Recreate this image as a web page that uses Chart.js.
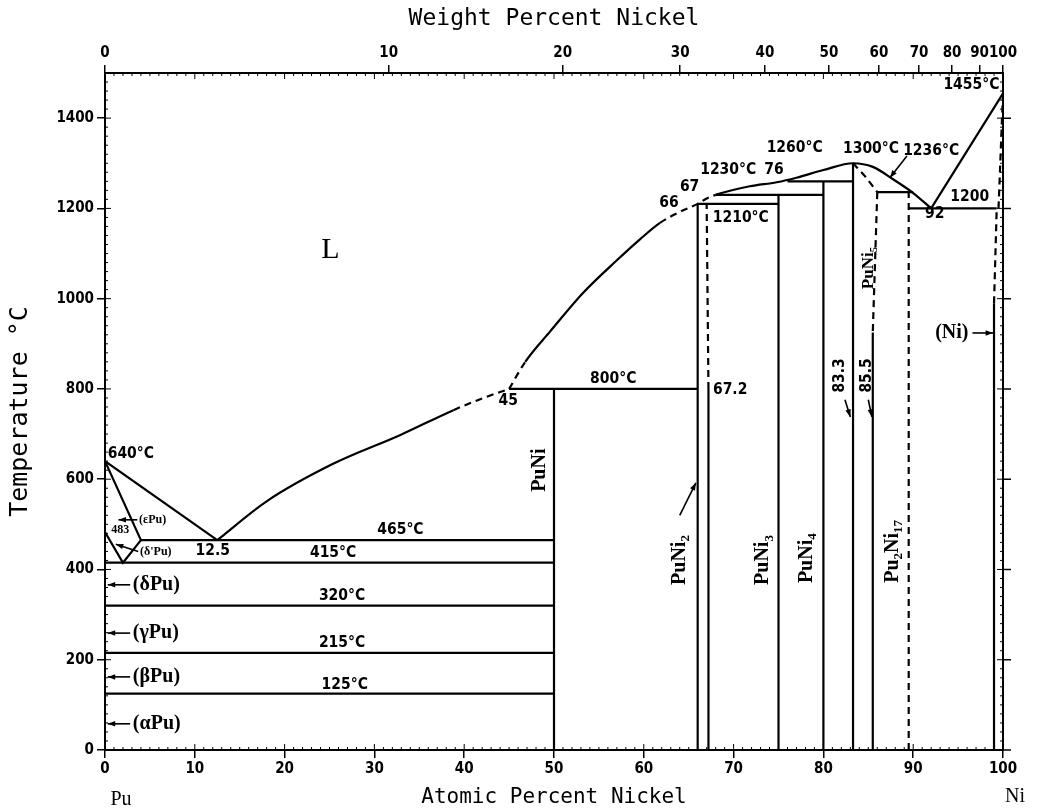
<!DOCTYPE html>
<html>
<head>
<meta charset="utf-8">
<script src="https://cdn.jsdelivr.net/npm/chart.js@4.4.1/dist/chart.umd.min.js"></script>
<style>
  html, body { margin: 0; padding: 0; background: #fff; }
</style>
</head>
<body>
<canvas id="puNi" width="1037" height="810"></canvas>
<script>
// ---- axes ----
const atomicTicks = [0, 10, 20, 30, 40, 50, 60, 70, 80, 90, 100];
const weightTicks = [0, 10, 20, 30, 40, 50, 60, 70, 80, 90, 100];
const tempTicks = [0, 200, 400, 600, 800, 1000, 1200, 1400];

// ---- liquidus, [at.% Ni, degC] ----
const liqPu = [[0, 640], [12.5, 465]];
const liqLow = [[12.5, 465], [18, 551], [25.4, 634], [32.9, 698], [38.8, 753], [42, 779], [45, 800]];
const liqLowDashed = [4, 5];
const liqUpper = [[45, 800], [46.8, 860], [49.6, 928], [53.2, 1012], [57, 1085], [59.6, 1132],
                  [61.8, 1168], [64, 1192], [66, 1210], [67, 1222], [68, 1230], [71.8, 1249],
                  [74.8, 1258], [77, 1268], [80, 1285], [83.3, 1300], [85.5, 1292], [87.8, 1264],
                  [90, 1234], [92, 1200]];
const liqUpperDashed = [0, 6, 7, 8, 9];
const liqNi = [[92, 1200], [100, 1455]];

// ---- Pu-rich corner ----
const epsSolidus = [[0, 640], [4, 465]];
const epsDelta = [[0, 483], [2, 415], [4, 465]];

// isotherms [degC, from at.%, to at.%]
const isotherms = [[465, 4, 50], [415, 0, 50], [320, 0, 50], [215, 0, 50], [125, 0, 50],
                   [800, 45, 66], [1210, 66, 75], [1230, 68, 80], [1260, 76, 83.3],
                   [1236, 86, 90], [1200, 89.5, 99.3]];
// solid phase boundaries [at.%, from degC, to degC]
const solidBounds = [[50, 0, 800], [66, 0, 1210], [67.2, 0, 800], [75, 0, 1230], [80, 0, 1260],
                     [83.3, 0, 1300], [85.5, 0, 925], [99, 0, 990]];
// uncertain boundaries
const dashedBounds = [
  [[67.2, 800], [67, 1210]],
  [[83.3, 1300], [84.6, 1272], [86, 1236]],
  [[86, 1236], [85.5, 925]],
  [[89.5, 0], [89.5, 1236]],
  [[99, 990], [99.3, 1200]],
  [[99.5, 1200], [100, 1455]]
];

// text on the diagram: text, at.%, degC
const notes = [
  { t: 'L', x: 25.1, y: 1108, k: 'big' },
  { t: '640°C', x: 0.3, y: 656, k: 'num', a: 'left' },
  { t: '483', x: 0.7, y: 488, k: 'tiny', a: 'left' },
  { t: '(εPu)', x: 3.8, y: 510, k: 'tiny', a: 'left' },
  { t: "(δ'Pu)", x: 3.9, y: 440, k: 'tiny', a: 'left' },
  { t: '12.5', x: 12.0, y: 442, k: 'num' },
  { t: '465°C', x: 32.9, y: 488, k: 'num' },
  { t: '415°C', x: 25.4, y: 437, k: 'num' },
  { t: '320°C', x: 26.4, y: 342, k: 'num' },
  { t: '215°C', x: 26.4, y: 238, k: 'num' },
  { t: '125°C', x: 26.7, y: 145, k: 'num' },
  { t: '(δPu)', x: 3.1, y: 366, k: 'phase', a: 'left' },
  { t: '(γPu)', x: 3.1, y: 259, k: 'phase', a: 'left' },
  { t: '(βPu)', x: 3.1, y: 162, k: 'phase', a: 'left' },
  { t: '(αPu)', x: 3.1, y: 58, k: 'phase', a: 'left' },
  { t: '45', x: 44.9, y: 773, k: 'num' },
  { t: '800°C', x: 56.6, y: 822, k: 'num' },
  { t: '67.2', x: 67.7, y: 798, k: 'num', a: 'left' },
  { t: 'PuNi', x: 48.4, y: 620, k: 'phase', r: -90 },
  { t: 'PuNi_2', x: 64.0, y: 421, k: 'phase', r: -90 },
  { t: 'PuNi_3', x: 73.3, y: 421, k: 'phase', r: -90 },
  { t: 'PuNi_4', x: 78.1, y: 425, k: 'phase', r: -90 },
  { t: 'PuNi_5', x: 85.0, y: 1068, k: 'phaseS', r: -90 },
  { t: 'Pu_2Ni_17', x: 87.7, y: 440, k: 'phase', r: -90 },
  { t: '83.3', x: 81.9, y: 830, k: 'num', r: -90 },
  { t: '85.5', x: 84.8, y: 830, k: 'num', r: -90 },
  { t: '(Ni)', x: 94.3, y: 924, k: 'phase' },
  { t: '1455°C', x: 99.6, y: 1473, k: 'num', a: 'right' },
  { t: '1236°C', x: 92.0, y: 1327, k: 'num' },
  { t: '1300°C', x: 85.3, y: 1331, k: 'num' },
  { t: '1260°C', x: 76.8, y: 1335, k: 'num' },
  { t: '1230°C', x: 69.4, y: 1286, k: 'num' },
  { t: '76', x: 74.5, y: 1286, k: 'num' },
  { t: '67', x: 65.1, y: 1248, k: 'num' },
  { t: '66', x: 62.8, y: 1213, k: 'num' },
  { t: '1210°C', x: 70.8, y: 1178, k: 'num' },
  { t: '1200', x: 96.3, y: 1226, k: 'num' },
  { t: '92', x: 92.4, y: 1187, k: 'num' }
];

// arrows: from -> to
const pointers = [
  [[3.6, 510], [1.5, 510]],
  [[3.7, 440], [1.2, 456]],
  [[2.8, 366], [0.3, 366]],
  [[2.8, 259], [0.3, 259]],
  [[2.8, 162], [0.3, 162]],
  [[2.8, 58], [0.3, 58]],
  [[64.0, 520], [65.8, 592]],
  [[82.4, 776], [83.0, 738]],
  [[85.0, 776], [85.4, 738]],
  [[96.6, 924], [98.9, 924]],
  [[89.3, 1316], [87.4, 1268]]
];

// weight % -> atomic % (Pu 244, Ni 58.69)
function wtToAt(w) {
  if (w <= 0) return 0;
  if (w >= 100) return 100;
  const ni = w / 58.69, pu = (100 - w) / 244;
  return 100 * ni / (ni + pu);
}

const DASH = [7, 5];
const datasets = [];
function addLine(pts, dashed, curved, dashedSegs) {
  const ds = {
    data: pts.map(p => ({ x: p[0], y: p[1] })),
    showLine: true,
    borderColor: '#000',
    borderWidth: 2.2,
    borderDash: dashed ? DASH : [],
    pointRadius: 0,
    cubicInterpolationMode: curved ? 'monotone' : 'default',
    tension: 0,
    fill: false
  };
  if (dashedSegs) {
    ds.segment = { borderDash: ctx => dashedSegs.includes(ctx.p0DataIndex) ? DASH : undefined };
  }
  datasets.push(ds);
}
addLine(liqPu, false);
addLine(liqLow, false, true, liqLowDashed);
addLine(liqUpper, false, true, liqUpperDashed);
addLine(liqNi, false);
addLine(epsSolidus, false);
addLine(epsDelta, false);
isotherms.forEach(([t, a, b]) => addLine([[a, t], [b, t]], false));
solidBounds.forEach(([x, a, b]) => addLine([[x, a], [x, b]], false));
dashedBounds.forEach(pts => addLine(pts, true, pts.length > 2));

const condensed = "'DejaVu Sans Condensed', 'DejaVu Sans', sans-serif";
const serif = "'Liberation Serif', 'DejaVu Serif', serif";
const mono = "'DejaVu Sans Mono', monospace";
const styles = {
  big: { size: 30, family: serif, weight: 'normal' },
  num: { size: 15.5, family: condensed, weight: 'bold' },
  tiny: { size: 12, family: serif, weight: 'bold' },
  phase: { size: 20, family: serif, weight: 'bold' },
  phaseS: { size: 17, family: serif, weight: 'bold' }
};

function drawRich(ctx, text, x, y, st, rot, align) {
  const parts = text.split(/_(\d+)/).map((s, i) => ({ t: s, sub: i % 2 === 1 })).filter(p => p.t);
  ctx.save();
  ctx.translate(x, y);
  ctx.rotate((rot || 0) * Math.PI / 180);
  ctx.textBaseline = 'middle';
  ctx.textAlign = 'left';
  let w = 0;
  const segs = parts.map(p => {
    const s = p.sub ? st.size * 0.65 : st.size;
    ctx.font = `${st.weight} ${s}px ${st.family}`;
    const m = ctx.measureText(p.t).width;
    w += m;
    return { p, s, m };
  });
  let cx = align === 'left' ? 0 : align === 'right' ? -w : -w / 2;
  segs.forEach(({ p, s, m }) => {
    ctx.font = `${st.weight} ${s}px ${st.family}`;
    ctx.fillText(p.t, cx, p.sub ? st.size * 0.32 : 0);
    cx += m;
  });
  ctx.restore();
}

const diagramDecor = {
  id: 'diagramDecor',
  afterDatasetsDraw(chart) {
    const { ctx, chartArea: ca } = chart;
    const xs = chart.scales.x, ys = chart.scales.y;
    ctx.save();
    ctx.fillStyle = '#000';
    ctx.strokeStyle = '#000';

    // frame
    ctx.lineWidth = 2;
    ctx.strokeRect(ca.left, ca.top, ca.right - ca.left, ca.bottom - ca.top);

    // minor ticks, inward
    ctx.lineWidth = 1;
    ctx.beginPath();
    for (let a = 1; a < 100; a++) {
      const p = xs.getPixelForValue(a);
      const len = a % 10 === 0 ? 6 : 3;
      ctx.moveTo(p, ca.bottom); ctx.lineTo(p, ca.bottom - len);
      ctx.moveTo(p, ca.top); ctx.lineTo(p, ca.top + len);
    }
    for (let t = 20; t < 1500; t += 20) {
      const p = ys.getPixelForValue(t);
      const len = t % 200 === 0 ? 6 : 3;
      ctx.moveTo(ca.left, p); ctx.lineTo(ca.left + len, p);
      ctx.moveTo(ca.right, p); ctx.lineTo(ca.right - len, p);
    }
    ctx.stroke();
    // right-hand major ticks, outward
    ctx.lineWidth = 1.5;
    ctx.beginPath();
    tempTicks.forEach(t => {
      const p = ys.getPixelForValue(t);
      ctx.moveTo(ca.right, p); ctx.lineTo(ca.right + 8, p);
    });
    ctx.stroke();

    // pointers
    ctx.lineWidth = 1.6;
    pointers.forEach(([a, b]) => {
      const x1 = xs.getPixelForValue(a[0]), y1 = ys.getPixelForValue(a[1]);
      const x2 = xs.getPixelForValue(b[0]), y2 = ys.getPixelForValue(b[1]);
      ctx.beginPath(); ctx.moveTo(x1, y1); ctx.lineTo(x2, y2); ctx.stroke();
      const ang = Math.atan2(y2 - y1, x2 - x1);
      ctx.beginPath();
      ctx.moveTo(x2, y2);
      ctx.lineTo(x2 - 8 * Math.cos(ang - 0.35), y2 - 8 * Math.sin(ang - 0.35));
      ctx.lineTo(x2 - 8 * Math.cos(ang + 0.35), y2 - 8 * Math.sin(ang + 0.35));
      ctx.closePath(); ctx.fill();
    });

    // annotations
    notes.forEach(n => {
      drawRich(ctx, n.t, xs.getPixelForValue(n.x), ys.getPixelForValue(n.y), styles[n.k], n.r, n.a);
    });

    // end members under the axis
    const endStyle = { size: 20, family: serif, weight: 'normal' };
    drawRich(ctx, 'Pu', xs.getPixelForValue(0) + 16, ca.bottom + 50, endStyle, 0, 'center');
    drawRich(ctx, 'Ni', xs.getPixelForValue(100) + 12, ca.bottom + 47, endStyle, 0, 'center');
    ctx.restore();
  }
};

const tickFont = { family: condensed, size: 15, weight: 'bold' };

new Chart(document.getElementById('puNi'), {
  type: 'scatter',
  data: { datasets: datasets },
  options: {
    responsive: false,
    animation: false,
    devicePixelRatio: 1,
    layout: { padding: { left: 0, right: 34, top: 0, bottom: 0 } },
    plugins: { legend: { display: false }, tooltip: { enabled: false } },
    scales: {
      x: {
        type: 'linear', position: 'bottom', min: 0, max: 100,
        afterFit: s => { s.height = 60; },
        afterBuildTicks: s => { s.ticks = atomicTicks.map(v => ({ value: v })); },
        ticks: { color: '#000', font: tickFont, padding: 2, maxRotation: 0, autoSkip: false,
                 callback: v => String(v) },
        grid: { drawOnChartArea: false, drawTicks: true, tickLength: 8, color: '#000', lineWidth: 1.5 },
        border: { display: false },
        title: { display: true, text: 'Atomic Percent Nickel', color: '#000',
                 font: { family: mono, size: 21 }, padding: { top: 0, bottom: 0 } }
      },
      xTop: {
        type: 'linear', position: 'top', min: 0, max: 100,
        afterFit: s => { s.height = 73; },
        afterBuildTicks: s => { s.ticks = weightTicks.map(w => ({ value: wtToAt(w) })); },
        ticks: { color: '#000', font: tickFont, padding: 3, maxRotation: 0, autoSkip: false,
                 callback: (v, i) => String(weightTicks[i]) },
        grid: { drawOnChartArea: false, drawTicks: true, tickLength: 8, color: '#000', lineWidth: 1.5 },
        border: { display: false },
        title: { display: true, text: 'Weight Percent Nickel', color: '#000',
                 font: { family: mono, size: 23 }, padding: { top: 5, bottom: 0 } }
      },
      y: {
        type: 'linear', position: 'left', min: 0, max: 1500,
        afterFit: s => { s.width = 105; },
        afterBuildTicks: s => { s.ticks = tempTicks.map(v => ({ value: v })); },
        ticks: { color: '#000', font: tickFont, padding: 3, autoSkip: false, callback: v => String(v) },
        grid: { drawOnChartArea: false, drawTicks: true, tickLength: 8, color: '#000', lineWidth: 1.5 },
        border: { display: false },
        title: { display: true, text: 'Temperature °C', color: '#000',
                 font: { family: mono, size: 25 }, padding: { top: 5, bottom: 0 } }
      }
    }
  },
  plugins: [diagramDecor]
});
</script>
</body>
</html>
